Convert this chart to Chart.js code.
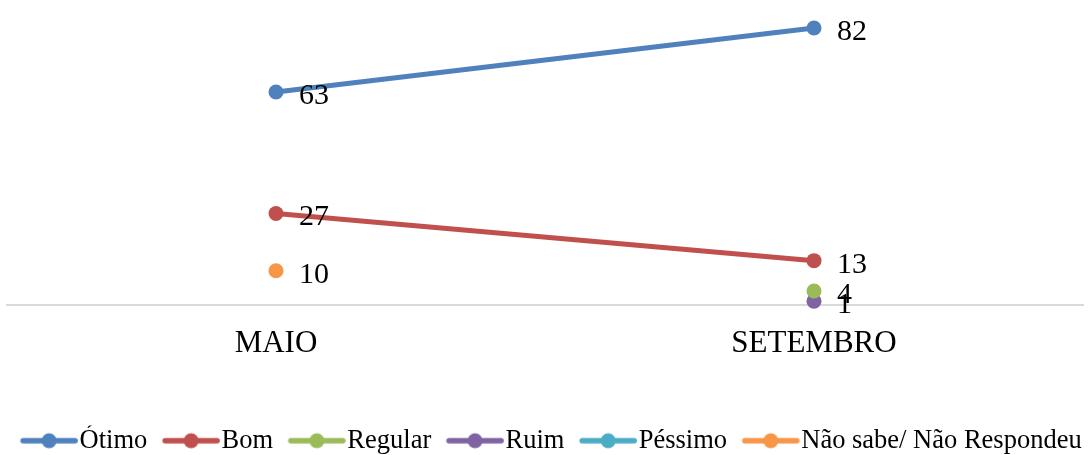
<!DOCTYPE html>
<html>
<head>
<meta charset="utf-8">
<script src="https://cdn.jsdelivr.net/npm/chart.js@4/dist/chart.umd.min.js"></script>
<style>
  html, body { margin: 0; padding: 0; background: #fff; }
  #wrap { width: 1089px; height: 455px; position: relative; }
</style>
</head>
<body>
<div id="wrap"><canvas id="c"></canvas></div>
<script>
// Survey periods
const categories = ['MAIO', 'SETEMBRO'];

// Percentages per answer
const otimo    = [63, 82];
const bom      = [27, 13];
const regular  = [null, 4];
const ruim     = [null, 1];
const pessimo  = [null, null];
const naoSabe  = [10, null];

const seriesNames  = ['Ótimo', 'Bom', 'Regular', 'Ruim', 'Péssimo', 'Não sabe/ Não Respondeu'];
const seriesValues = [otimo, bom, regular, ruim, pessimo, naoSabe];
const seriesColors = ['#4F81BD', '#C0504D', '#9BBB59', '#8064A2', '#4BACC6', '#F79646'];

const FONT = "'Liberation Serif', 'Times New Roman', serif";
const LEGEND_FONT = 26.5;
const LEGEND_BOX = 59;

// Legend marker: a short line with a dot in the middle, ending just before the label text
function legendMarker(color) {
  const textX = LEGEND_BOX + LEGEND_FONT / 2;
  const lineEnd = textX - 2;
  const lineStart = lineEnd - 57;
  const half = Math.ceil(Math.max(LEGEND_BOX / 2 - lineStart, lineEnd - LEGEND_BOX / 2)) + 1;
  const w = half * 2, h = 18;
  const origin = LEGEND_BOX / 2 - half;
  const cv = document.createElement('canvas');
  cv.width = w; cv.height = h;
  const g = cv.getContext('2d');
  g.strokeStyle = color;
  g.lineWidth = 5.5;
  g.lineCap = 'round';
  g.beginPath();
  g.moveTo(lineStart - origin + 2.5, h / 2);
  g.lineTo(lineEnd - origin - 2.5, h / 2);
  g.stroke();
  g.fillStyle = color;
  g.beginPath();
  g.arc((lineStart + lineEnd) / 2 - origin, h / 2, 7.5, 0, Math.PI * 2);
  g.fill();
  return cv;
}

// Value labels to the right of each point
const valueLabels = {
  id: 'valueLabels',
  afterDatasetsDraw(chart) {
    const ctx = chart.ctx;
    ctx.save();
    ctx.font = '30px ' + FONT;
    ctx.fillStyle = '#000';
    ctx.textAlign = 'left';
    ctx.textBaseline = 'middle';
    chart.data.datasets.forEach((ds, i) => {
      const meta = chart.getDatasetMeta(i);
      meta.data.forEach((pt, j) => {
        const v = ds.data[j];
        if (v === null || v === undefined) return;
        ctx.fillText(String(v), pt.x + 23, pt.y + 4);
      });
    });
    ctx.restore();
  }
};

const datasets = seriesNames.map((name, i) => ({
  label: name,
  data: seriesValues[i],
  borderColor: seriesColors[i],
  backgroundColor: seriesColors[i],
  pointBackgroundColor: seriesColors[i],
  pointBorderColor: seriesColors[i],
  borderWidth: 5,
  pointRadius: 7.5,
  pointBorderWidth: 0,
  pointHoverRadius: 7.5,
  tension: 0,
  spanGaps: false,
  clip: false
}));

new Chart(document.getElementById('c'), {
  type: 'line',
  data: { labels: categories, datasets },
  plugins: [valueLabels],
  options: {
    responsive: true,
    maintainAspectRatio: false,
    animation: false,
    layout: { autoPadding: false, padding: { left: 0, right: 0, top: 1, bottom: -9 } },
    scales: {
      x: {
        offset: true,
        grid: { display: false },
        border: { display: true, color: '#d9d9d9', width: 2 },
        ticks: { color: '#000', font: { family: FONT, size: 31 }, padding: 13 },
        afterFit(scale) { scale.height = 121; }
      },
      y: {
        position: 'left',
        min: 0,
        max: 90,
        grid: { display: false },
        border: { display: false },
        ticks: { display: false },
        afterFit(scale) { scale.width = 7; }
      },
      yRight: {
        position: 'right',
        grid: { display: false },
        border: { display: false },
        ticks: { display: false },
        afterFit(scale) { scale.width = 6; }
      }
    },
    plugins: {
      tooltip: { enabled: false },
      legend: {
        position: 'bottom',
        labels: {
          color: '#000',
          font: { family: FONT, size: LEGEND_FONT },
          usePointStyle: true,
          pointStyleWidth: LEGEND_BOX,
          padding: 2,
          generateLabels(chart) {
            return chart.data.datasets.map((ds, i) => ({
              text: ds.label,
              fillStyle: ds.backgroundColor,
              strokeStyle: ds.borderColor,
              lineWidth: 0,
              pointStyle: legendMarker(ds.borderColor),
              hidden: false,
              datasetIndex: i,
              fontColor: '#000'
            }));
          }
        }
      }
    }
  }
});
</script>
</body>
</html>
